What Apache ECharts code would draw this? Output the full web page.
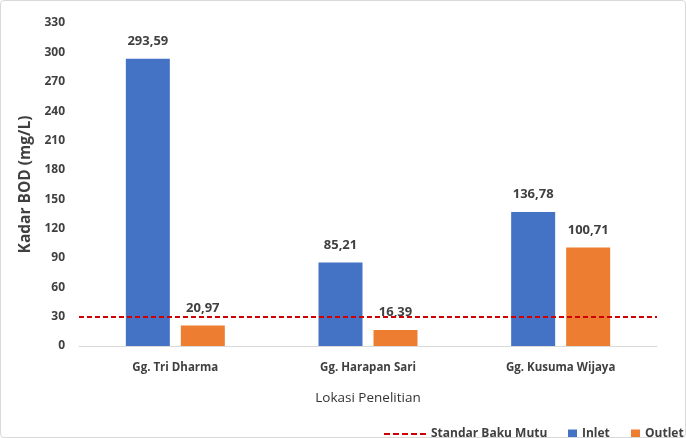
<!DOCTYPE html>
<html>
<head>
<meta charset="utf-8">
<script src="https://cdn.jsdelivr.net/npm/echarts@6/dist/echarts.min.js"></script>
<style>
  html, body { margin: 0; padding: 0; background: #fff; }
  #main { width: 686px; height: 438px; box-sizing: border-box; border: 1px solid #d9d9d9; border-radius: 4px; }
</style>
</head>
<body>
<div id="main"></div>
<script>
var locations = ['Gg. Tri Dharma', 'Gg. Harapan Sari', 'Gg. Kusuma Wijaya'];
var inlet = [293.59, 85.21, 136.78];
var outlet = [20.97, 16.39, 100.71];
var standard = 30;
var yTicks = { min: 0, max: 330, interval: 30 };

var font = '"Open Sans", sans-serif';
var chart = echarts.init(document.getElementById('main'));

function commaLabel(p) {
  return p.value.toFixed(2).replace('.', ',');
}

var legendText = { fontFamily: font, fontSize: 12, fontWeight: 'bold', color: '#404040' };
var dashIcon = 'path://M0,0H6V2H0Z M9,0H15V2H9Z M18,0H24V2H18Z M27,0H33V2H27Z M36,0H42V2H36Z';

var option = {
  textStyle: { fontFamily: font },
  grid: { left: 78, right: 28, top: 22, bottom: 91 },
  legend: [
    { data: [{ name: 'Standar Baku Mutu', icon: dashIcon }], left: 383, top: 427, padding: 0,
      itemWidth: 42, itemHeight: 2.5, itemGap: 0, textStyle: legendText },
    { data: [{ name: 'Inlet', icon: 'rect' }], left: 567, top: 427, padding: 0,
      itemWidth: 9, itemHeight: 9, itemGap: 0, textStyle: legendText },
    { data: [{ name: 'Outlet', icon: 'rect' }], left: 630, top: 427, padding: 0,
      itemWidth: 9, itemHeight: 9, itemGap: 0, textStyle: legendText }
  ],
  xAxis: {
    type: 'category',
    data: locations,
    name: 'Lokasi Penelitian',
    nameLocation: 'middle',
    nameGap: 45,
    nameTextStyle: { fontFamily: font, fontSize: 13.5, color: '#333333' },
    axisLine: { lineStyle: { color: '#d9d9d9' } },
    axisTick: { show: false },
    axisLabel: { fontFamily: font, fontSize: 11.5, fontWeight: 'bold', color: '#404040', margin: 16 }
  },
  yAxis: {
    type: 'value',
    min: yTicks.min, max: yTicks.max, interval: yTicks.interval,
    name: 'Kadar BOD (mg/L)',
    nameLocation: 'middle',
    nameGap: 34,
    nameTextStyle: { fontFamily: font, fontSize: 15.5, fontWeight: 'bold', color: '#404040' },
    axisLine: { show: false },
    axisTick: { show: false },
    splitLine: { show: false },
    axisLabel: { fontFamily: font, fontSize: 12, fontWeight: 'bold', color: '#404040', margin: 14 }
  },
  series: [
    {
      name: 'Standar Baku Mutu',
      type: 'line',
      data: [],
      symbol: 'none',
      itemStyle: { color: '#d00000' },
      lineStyle: { color: '#d00000', type: [5, 3], width: 2 },
      markLine: {
        silent: true,
        symbol: 'none',
        label: { show: false },
        lineStyle: { color: '#d00000', type: [5, 3], width: 2 },
        data: [{ yAxis: standard }]
      }
    },
    {
      name: 'Inlet',
      type: 'bar',
      data: inlet,
      barWidth: 44,
      barGap: '25%',
      itemStyle: { color: '#4472c4' },
      label: { show: true, position: 'top', distance: 11, formatter: commaLabel,
               fontFamily: font, fontSize: 13, fontWeight: 'bold', color: '#404040' }
    },
    {
      name: 'Outlet',
      type: 'bar',
      data: outlet,
      barWidth: 44,
      itemStyle: { color: '#ed7d31' },
      label: { show: true, position: 'top', distance: 11, formatter: commaLabel,
               fontFamily: font, fontSize: 13, fontWeight: 'bold', color: '#404040' }
    }
  ]
};
chart.setOption(option);
</script>
</body>
</html>
